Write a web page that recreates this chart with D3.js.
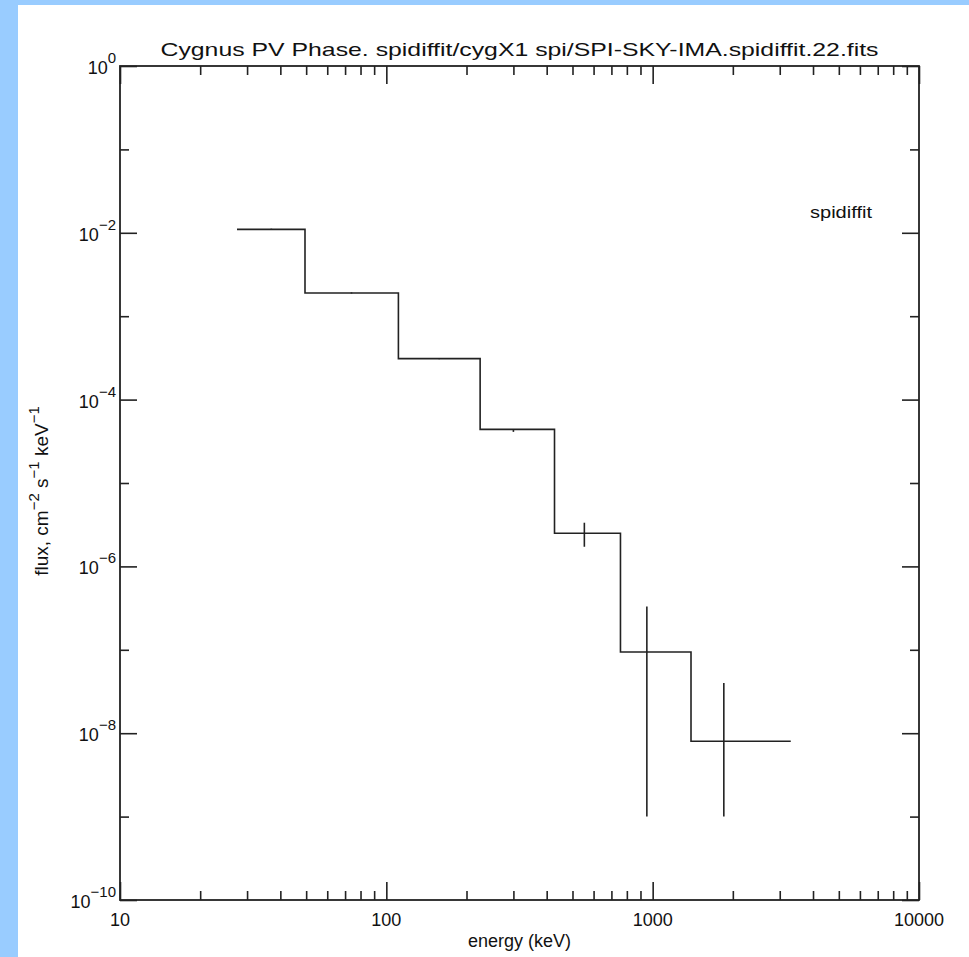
<!DOCTYPE html>
<html>
<head>
<meta charset="utf-8">
<script src="https://cdn.jsdelivr.net/npm/d3@7"></script>
<style>
  html, body { margin: 0; padding: 0; background: #99ccff; }
  #chart { position: absolute; left: 18px; top: 5px; width: 951px; height: 952px; background: #fff; }
  svg text { font-family: "Liberation Sans", Helvetica, Arial, sans-serif; fill: #111; }
</style>
</head>
<body>
<div id="chart"></div>
<script>
// --- DATA ---
const binLo  = [27.5, 49.5, 111, 225, 428, 757, 1393];
const binHi  = [49.5, 111, 225, 428, 757, 1393, 3300];
const flux   = [1.1e-2, 1.9e-3, 3.1e-4, 4.4e-5, 2.5e-6, 9.4e-8, 8.0e-9];
const eMid   = [37, 74, 158, 300, 554, 951, 1850];
const errLo  = [1.08e-2, 1.87e-3, 3.05e-4, 4.1e-5, 1.72e-6, 1.0e-9, 1.0e-9];
const errHi  = [1.12e-2, 1.93e-3, 3.15e-4, 4.4e-5, 3.34e-6, 3.3e-7, 4.0e-8];

const xMajor = [10, 100, 1000, 10000];
const xMinor = [20, 30, 40, 50, 60, 70, 80, 90, 200, 300, 400, 500, 600, 700, 800, 900,
                2000, 3000, 4000, 5000, 6000, 7000, 8000, 9000];
const yExp   = [0, -1, -2, -3, -4, -5, -6, -7, -8, -9, -10];
const yLabelExp = [0, -2, -4, -6, -8, -10];

const titleText = "Cygnus PV Phase. spidiffit/cygX1 spi/SPI-SKY-IMA.spidiffit.22.fits";
const seriesName = "spidiffit";

// --- DIMENSIONS (svg sits inside the blue frame, offset 18,5) ---
const width = 951, height = 952;
const margin = { top: 61, right: 50, bottom: 57, left: 102 };
const boundsWidth = width - margin.left - margin.right;
const boundsHeight = height - margin.top - margin.bottom;
const ink = "#222";

const svg = d3.select("#chart").append("svg")
    .attr("width", width).attr("height", height);
const bounds = svg.append("g")
    .attr("transform", `translate(${margin.left},${margin.top})`);

// Scales
const xScale = d3.scaleLog().domain([10, 10000]).range([0, boundsWidth]);
const yScale = d3.scaleLog().domain([1e-10, 1]).range([boundsHeight, 0]);

// Axes: ticks point inward on all four sides, majors longer than minors
function styleAxis(g) {
    g.select(".domain").remove();
    g.selectAll(".tick line").attr("stroke", ink).attr("stroke-width", 1.6);
    g.selectAll(".tick text").remove();
}
const yMajor = yExp.filter(e => e % 2 === 0).map(e => Math.pow(10, e));
const yMinor = yExp.filter(e => e % 2 !== 0).map(e => Math.pow(10, e));

bounds.append("g").attr("transform", `translate(0,${boundsHeight})`)
    .call(d3.axisBottom(xScale).tickValues(xMajor).tickSize(-18)).call(styleAxis);
bounds.append("g").attr("transform", `translate(0,${boundsHeight})`)
    .call(d3.axisBottom(xScale).tickValues(xMinor).tickSize(-9)).call(styleAxis);
bounds.append("g")
    .call(d3.axisTop(xScale).tickValues(xMajor).tickSize(-18)).call(styleAxis);
bounds.append("g")
    .call(d3.axisTop(xScale).tickValues(xMinor).tickSize(-9)).call(styleAxis);
bounds.append("g")
    .call(d3.axisLeft(yScale).tickValues(yMajor).tickSize(-17)).call(styleAxis);
bounds.append("g")
    .call(d3.axisLeft(yScale).tickValues(yMinor).tickSize(-9)).call(styleAxis);
bounds.append("g").attr("transform", `translate(${boundsWidth},0)`)
    .call(d3.axisRight(yScale).tickValues(yMajor).tickSize(-17)).call(styleAxis);
bounds.append("g").attr("transform", `translate(${boundsWidth},0)`)
    .call(d3.axisRight(yScale).tickValues(yMinor).tickSize(-9)).call(styleAxis);

// Frame
bounds.append("rect")
    .attr("width", boundsWidth).attr("height", boundsHeight)
    .attr("fill", "none").attr("stroke", ink).attr("stroke-width", 1.8);

// X tick labels
bounds.selectAll(".xlab")
    .data(xMajor).enter().append("text")
    .attr("class", "xlab")
    .attr("x", d => xScale(d))
    .attr("y", boundsHeight + 26)
    .attr("text-anchor", "middle")
    .style("font-size", "18px")
    .text(d => d);

// Y tick labels: 10 with superscript exponent
const yLab = bounds.selectAll(".ylab")
    .data(yLabelExp).enter().append("text")
    .attr("class", "ylab")
    .attr("x", -4)
    .attr("y", d => yScale(Math.pow(10, d)) + 8)
    .attr("text-anchor", "end")
    .style("font-size", "18px");
yLab.append("tspan").text("10");
yLab.append("tspan")
    .attr("dy", -11)
    .style("font-size", "15px")
    .text(d => d === 0 ? "0" : "\u2212" + Math.abs(d));

// Step spectrum
const stepPoints = binLo.flatMap((lo, i) => [[lo, flux[i]], [binHi[i], flux[i]]]);
const lineGenerator = d3.line()
    .x(d => xScale(d[0]))
    .y(d => yScale(d[1]));
bounds.append("path")
    .attr("d", lineGenerator(stepPoints))
    .attr("fill", "none")
    .attr("stroke", ink)
    .attr("stroke-width", 1.6);

// Error bars
bounds.selectAll(".err")
    .data(eMid).enter().append("line")
    .attr("class", "err")
    .attr("x1", d => xScale(d)).attr("x2", d => xScale(d))
    .attr("y1", (d, i) => yScale(errLo[i]))
    .attr("y2", (d, i) => yScale(errHi[i]))
    .attr("stroke", ink)
    .attr("stroke-width", 1.6);

// Series label
bounds.append("text")
    .attr("x", 690)
    .attr("y", yScale(1e-2) - 15)
    .attr("textLength", 62)
    .attr("lengthAdjust", "spacingAndGlyphs")
    .style("font-size", "16px")
    .text(seriesName);

// Title
svg.append("text")
    .attr("x", margin.left + boundsWidth / 2)
    .attr("y", margin.top - 10)
    .attr("text-anchor", "middle")
    .attr("textLength", 718)
    .attr("lengthAdjust", "spacingAndGlyphs")
    .style("font-size", "19px")
    .text(titleText);

// X axis title
svg.append("text")
    .attr("x", margin.left + boundsWidth / 2)
    .attr("y", height - 10)
    .attr("text-anchor", "middle")
    .style("font-size", "18px")
    .text("energy (keV)");

// Y axis title with superscripts
const yTitle = svg.append("text")
    .attr("transform", `translate(30,${margin.top + boundsHeight / 2 + 8}) rotate(-90)`)
    .attr("text-anchor", "middle")
    .style("font-size", "19px");
yTitle.append("tspan").text("flux, cm");
yTitle.append("tspan").attr("dy", -9).style("font-size", "15px").text("\u22122");
yTitle.append("tspan").attr("dy", 9).text(" s");
yTitle.append("tspan").attr("dy", -9).style("font-size", "15px").text("\u22121");
yTitle.append("tspan").attr("dy", 9).text(" keV");
yTitle.append("tspan").attr("dy", -9).style("font-size", "15px").text("\u22121");
</script>
</body>
</html>
